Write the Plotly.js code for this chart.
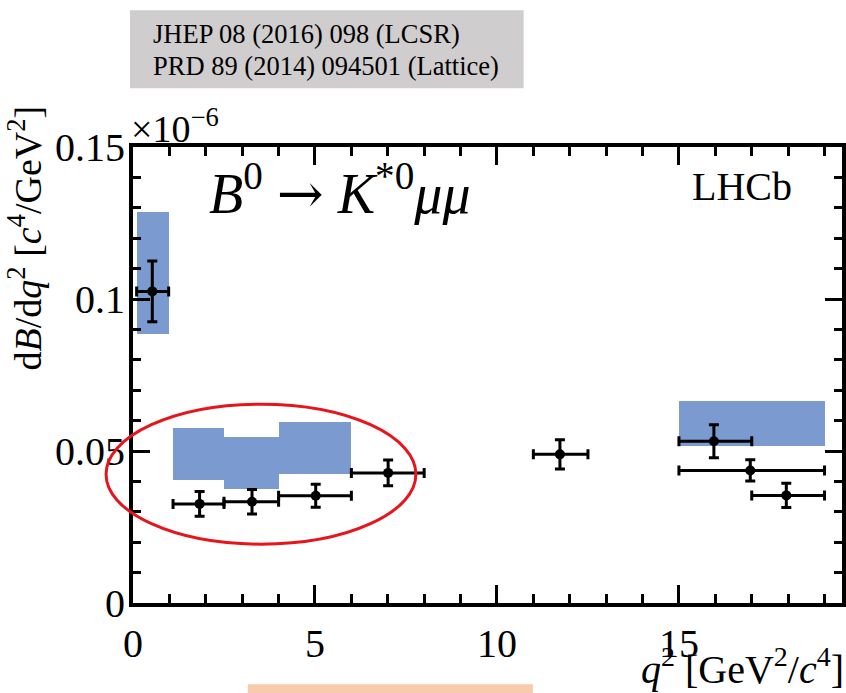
<!DOCTYPE html>
<html>
<head>
<meta charset="utf-8">
<script src="https://cdn.plot.ly/plotly-3.0.1.min.js"></script>
<style>
  html, body { margin: 0; padding: 0; background: #ffffff; }
  #chart { width: 846px; height: 693px; }
</style>
</head>
<body>
<div id="chart"></div>
<script>
// Measured differential branching fraction, in units of 1e-6 per GeV^2/c^4
const dataCentre = [0.53, 1.83, 3.27, 5.02, 7.01, 11.73, 15.96, 16.96, 17.95];
const dataBinLow = [0.1, 1.1, 2.5, 4.0, 6.0, 11.0, 15.0, 15.0, 17.0];
const dataBinHigh = [0.98, 2.5, 4.0, 6.0, 8.0, 12.5, 17.0, 19.0, 19.0];
const dataValue = [0.1025, 0.0326, 0.0333, 0.0353, 0.0428, 0.0489, 0.0532, 0.0436, 0.0354];
const dataError = [0.0100, 0.0041, 0.0040, 0.0038, 0.0042, 0.0048, 0.0054, 0.0035, 0.0040];

// SM predictions (LCSR at low q2, lattice at high q2)
const theoryBinLow = [0.1, 1.1, 2.5, 4.0, 15.0];
const theoryBinHigh = [1.0, 2.5, 4.0, 6.0, 19.0];
const theoryLow = [0.0885, 0.0406, 0.0375, 0.0423, 0.0515];
const theoryHigh = [0.1285, 0.0575, 0.0545, 0.0596, 0.0665];

// Axis ticks
const xTickVals = [0, 5, 10, 15];
const yTickVals = [0, 0.05, 0.1, 0.15];
const yTickText = ['0', '0.05', '0.1', '0.15'];

const serif = 'Liberation Serif, Times New Roman, serif';

const theoryTrace = {
  type: 'bar',
  x: theoryBinLow.map((lo, i) => (lo + theoryBinHigh[i]) / 2),
  width: theoryBinLow.map((lo, i) => theoryBinHigh[i] - lo),
  base: theoryLow,
  y: theoryHigh.map((hi, i) => hi - theoryLow[i]),
  marker: { color: '#7a9ad0', line: { width: 0 } },
  hoverinfo: 'skip',
  showlegend: false
};

const dataTrace = {
  type: 'scatter',
  mode: 'markers',
  x: dataCentre,
  y: dataValue,
  marker: { color: '#000000', size: 10 },
  error_y: {
    type: 'data', array: dataError, visible: true,
    color: '#000000', thickness: 3, width: 5
  },
  error_x: {
    type: 'data', symmetric: false, visible: true,
    array: dataBinHigh.map((hi, i) => hi - dataCentre[i]),
    arrayminus: dataBinLow.map((lo, i) => dataCentre[i] - lo),
    color: '#000000', thickness: 3, width: 5
  },
  showlegend: false,
  cliponaxis: false
};

const layout = {
  width: 846,
  height: 693,
  margin: { l: 133, r: 4, t: 147, b: 90 },
  paper_bgcolor: '#ffffff',
  plot_bgcolor: '#ffffff',
  barmode: 'overlay',
  bargap: 0,
  showlegend: false,
  font: { family: serif, color: '#000000', size: 40 },
  xaxis: {
    range: [0, 19.48],
    showgrid: false,
    zeroline: false,
    showline: true,
    linecolor: '#000000',
    linewidth: 4,
    mirror: 'allticks',
    ticks: 'inside',
    ticklen: 18,
    tickwidth: 3,
    tickcolor: '#000000',
    tickvals: xTickVals,
    ticktext: xTickVals.map(String),
    tickfont: { family: serif, size: 40, color: '#000000' },
    ticklabelstandoff: 2,
    minor: { dtick: 1, ticks: 'inside', ticklen: 9, tickwidth: 3, tickcolor: '#000000', showgrid: false }
  },
  yaxis: {
    range: [0, 0.15],
    showgrid: false,
    zeroline: false,
    showline: true,
    linecolor: '#000000',
    linewidth: 4,
    mirror: 'allticks',
    ticks: 'inside',
    ticklen: 17,
    tickwidth: 3,
    tickcolor: '#000000',
    tickvals: yTickVals,
    ticktext: yTickText,
    tickfont: { family: serif, size: 40, color: '#000000' },
    ticklabelstandoff: -4,
    minor: { dtick: 0.01, ticks: 'inside', ticklen: 8, tickwidth: 3, tickcolor: '#000000', showgrid: false }
  },
  shapes: [
    // reference box
    { type: 'rect', xref: 'paper', yref: 'paper', x0: -0.0042, x1: 0.551, y0: 1.129, y1: 1.30,
      fillcolor: '#cfcdce', line: { width: 0 }, layer: 'below' },
    // highlight around the low-q2 bins
    { type: 'circle', xref: 'paper', yref: 'paper', x0: -0.038, x1: 0.399, y0: 0.129, y1: 0.436,
      line: { color: '#e8141c', width: 3 }, fillcolor: 'rgba(0,0,0,0)', layer: 'above' },
    // bottom strip
    { type: 'rect', xref: 'paper', yref: 'paper', x0: 0.162, x1: 0.564, y0: -0.23, y1: -0.178,
      fillcolor: '#f8cbad', line: { width: 0 }, layer: 'above' }
  ],
  annotations: [
    { xref: 'paper', yref: 'paper', x: 0.0254, y: 1.248, xanchor: 'left', yanchor: 'middle',
      text: 'JHEP 08 (2016) 098 (LCSR)', showarrow: false,
      font: { family: serif, size: 26.5, color: '#000000' } },
    { xref: 'paper', yref: 'paper', x: 0.0254, y: 1.178, xanchor: 'left', yanchor: 'middle',
      text: 'PRD 89 (2014) 094501 (Lattice)', showarrow: false,
      font: { family: serif, size: 26.5, color: '#000000' } },
    { xref: 'paper', yref: 'paper', x: -0.005, y: 0.99, xanchor: 'left', yanchor: 'bottom',
      text: '×10<sup>−6</sup>', showarrow: false,
      font: { family: serif, size: 38, color: '#000000' } },
    { xref: 'paper', yref: 'paper', x: 0.104, y: 0.905, xanchor: 'left', yanchor: 'middle',
      text: '<i>B</i><sup>0</sup> <span style="font-family:DejaVu Serif">→</span> <i>K</i><sup>*0</sup><i>μμ</i>', showarrow: false,
      font: { family: serif, size: 56, color: '#000000' } },
    { xref: 'paper', yref: 'paper', x: 0.785, y: 0.914, xanchor: 'left', yanchor: 'middle',
      text: 'LHCb', showarrow: false,
      font: { family: serif, size: 40, color: '#000000' } },
    { xref: 'paper', yref: 'paper', x: 1.005, y: -0.14, xanchor: 'right', yanchor: 'middle',
      text: '<i>q</i><sup>2</sup> [GeV<sup>2</sup>/<i>c</i><sup>4</sup>]', showarrow: false,
      font: { family: serif, size: 40, color: '#000000' } },
    { xref: 'paper', yref: 'paper', x: -0.152, y: 1.095, xanchor: 'center', yanchor: 'top',
      textangle: -90,
      text: 'd<i>B</i>/d<i>q</i><sup>2</sup> [<i>c</i><sup>4</sup>/GeV<sup>2</sup>]', showarrow: false,
      font: { family: serif, size: 38, color: '#000000' } }
  ]
};

Plotly.newPlot('chart', [theoryTrace, dataTrace], layout, { staticPlot: true, displayModeBar: false });
</script>
</body>
</html>
